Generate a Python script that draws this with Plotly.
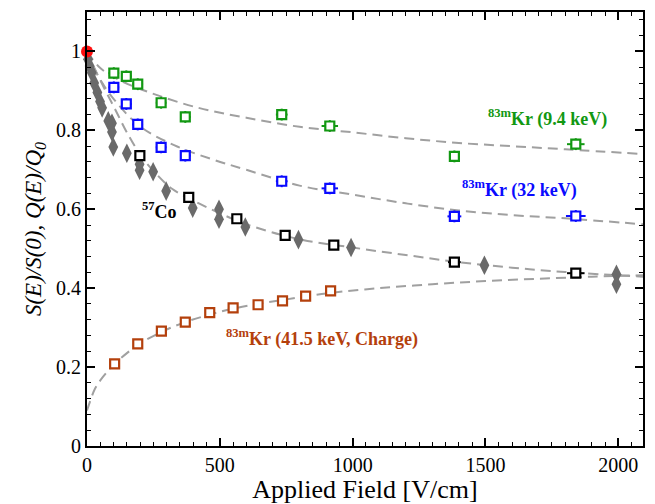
import plotly.graph_objects as go

# ---- data ----
field_kr = [101, 148, 191, 279, 370, 733, 914, 1383, 1840]
kr94_y = [0.945, 0.937, 0.917, 0.870, 0.834, 0.840, 0.811, 0.734, 0.765]
kr94_ex = [20, 20, 20, 20, 20, 22, 31, 12, 33]
kr32_y = [0.909, 0.867, 0.815, 0.757, 0.736, 0.671, 0.653, 0.582, 0.583]
kr32_ex = [20, 20, 20, 20, 20, 22, 31, 26, 37]

co_x = [199, 383, 564, 746, 929, 1383, 1840]
co_y = [0.736, 0.630, 0.576, 0.534, 0.509, 0.466, 0.438]
co_ex = [0, 0, 0, 0, 0, 24, 33]

dia_x = [4, 10, 18, 27, 39, 49, 57, 80, 94, 94, 99, 150, 198, 198, 249,
         298, 398, 497, 497, 596, 796, 994, 1496, 1993, 1993]
dia_y = [0.980, 0.963, 0.946, 0.920, 0.896, 0.873, 0.857, 0.824, 0.818,
         0.796, 0.758, 0.742, 0.714, 0.699, 0.695, 0.646, 0.603, 0.600,
         0.575, 0.555, 0.523, 0.503, 0.458, 0.435, 0.410]

charge_x = [104, 191, 280, 370, 462, 550, 644, 736, 823, 917]
charge_y = [0.208, 0.259, 0.291, 0.314, 0.338, 0.350, 0.358, 0.368, 0.380, 0.393]

ref_x = [0]
ref_y = [1.0]

# fitted curves
fit94_x = [0, 50, 120, 240, 420, 600, 800, 1000, 1200, 1400, 1600, 1800, 2093]
fit94_y = [1.0, 0.958, 0.928, 0.895, 0.857, 0.832, 0.809, 0.795, 0.780, 0.768, 0.760, 0.752, 0.740]

fit32_x = [0, 40, 100, 200, 330, 470, 600, 800, 1000, 1200, 1400, 1600, 1800, 2093]
fit32_y = [1.0, 0.94, 0.88, 0.81, 0.762, 0.727, 0.70, 0.66, 0.637, 0.615, 0.597, 0.585, 0.577, 0.562]

fitco_x = [0, 30, 70, 110, 150, 204, 260, 320, 400, 500, 600, 800, 1000, 1200, 1400, 1600, 1800, 2093]
fitco_y = [1.0, 0.955, 0.90, 0.848, 0.795, 0.735, 0.69, 0.652, 0.622, 0.59, 0.562, 0.524, 0.503, 0.484, 0.466, 0.452, 0.441, 0.429]

fitq_x = [0, 10, 30, 60, 104, 191, 280, 370, 462, 550, 644, 736, 823, 917, 1100, 1300, 1500, 1700, 1900, 2093]
fitq_y = [0.09, 0.11, 0.145, 0.175, 0.208, 0.256, 0.289, 0.314, 0.333, 0.348, 0.36, 0.370, 0.379, 0.388, 0.40, 0.41, 0.418, 0.424, 0.429, 0.433]

GREEN = "#129812"
BLUE = "#0a0aff"
ORANGE = "#b4400c"
GRAY = "#6a6a6a"
FIT = "#a0a0a0"
FONT = "Liberation Serif"

fig = go.Figure()

for fx, fy in [(fit94_x, fit94_y), (fit32_x, fit32_y), (fitco_x, fitco_y), (fitq_x, fitq_y)]:
    fig.add_trace(go.Scatter(x=fx, y=fy, mode="lines",
                             line=dict(color=FIT, width=2, dash="10px,6px", shape="spline", smoothing=1.0),
                             hoverinfo="skip", showlegend=False))

fig.add_trace(go.Scatter(x=dia_x, y=dia_y, mode="markers",
                         marker=dict(symbol="diamond-tall", size=14, color=GRAY),
                         cliponaxis=False, showlegend=False))

def err_trace(x, y, ex, ey, color, size=9):
    return go.Scatter(
        x=x, y=y, mode="markers",
        marker=dict(symbol="square", size=size, color="white",
                    line=dict(color=color, width=2.2)),
        error_x=dict(type="data", array=ex, color=color, thickness=2, width=0),
        error_y=dict(type="data", array=[ey] * len(x), color=color, thickness=2, width=0),
        cliponaxis=False, showlegend=False)

fig.add_trace(err_trace(field_kr, kr94_y, kr94_ex, 0.015, GREEN))
fig.add_trace(err_trace(field_kr, kr32_y, kr32_ex, 0.015, BLUE))
fig.add_trace(err_trace(co_x, co_y, co_ex, 0.0, "black"))
fig.add_trace(err_trace(charge_x, charge_y, [18] * len(charge_x), 0.012, ORANGE))

fig.add_trace(go.Scatter(x=ref_x, y=ref_y, mode="markers",
                         marker=dict(symbol="circle", size=12, color="#ff1010"),
                         cliponaxis=False, showlegend=False))

ann_font = dict(family=FONT, size=18)
fig.add_annotation(x=273, y=0.596, text="<b><sup>57</sup>Co</b>", showarrow=False,
                   font=dict(ann_font, color="black"))
fig.add_annotation(x=1732, y=0.832, text="<b><sup>83m</sup>Kr (9.4 keV)</b>", showarrow=False,
                   font=dict(ann_font, color=GREEN))
fig.add_annotation(x=1627, y=0.652, text="<b><sup>83m</sup>Kr (32 keV)</b>", showarrow=False,
                   font=dict(ann_font, color=BLUE))
fig.add_annotation(x=885, y=0.275, text="<b><sup>83m</sup>Kr (41.5 keV, Charge)</b>", showarrow=False,
                   font=dict(ann_font, color=ORANGE))

axis_common = dict(showline=True, linecolor="black", linewidth=2, mirror="allticks",
                   ticks="inside", ticklen=8, tickwidth=1.5, tickcolor="black",
                   showgrid=False, zeroline=False,
                   tickfont=dict(family=FONT, size=20, color="black"))

fig.update_xaxes(range=[0, 2093], dtick=500, tick0=0,
                 minor=dict(dtick=50, ticks="inside", ticklen=4, tickcolor="black", tickwidth=1),
                 title=dict(text="Applied Field [V/cm]", font=dict(family=FONT, size=26, color="black"), standoff=0),
                 **axis_common)
fig.update_yaxes(range=[0, 1.1], tickvals=[0, 0.2, 0.4, 0.6, 0.8, 1.0],
                 ticktext=["0", "0.2", "0.4", "0.6", "0.8", "1"],
                 minor=dict(dtick=0.04, tick0=0, ticks="inside", ticklen=4, tickcolor="black", tickwidth=1),
                 title=dict(text="<i>S(E)/S(0), Q(E)/Q<sub>0</sub></i>", font=dict(family=FONT, size=23, color="black"), standoff=8),
                 **axis_common)

fig.update_layout(width=655, height=504, margin=dict(l=87, r=10, t=10, b=53),
                  plot_bgcolor="white", paper_bgcolor="white", showlegend=False)

fig.write_html("out.html")
